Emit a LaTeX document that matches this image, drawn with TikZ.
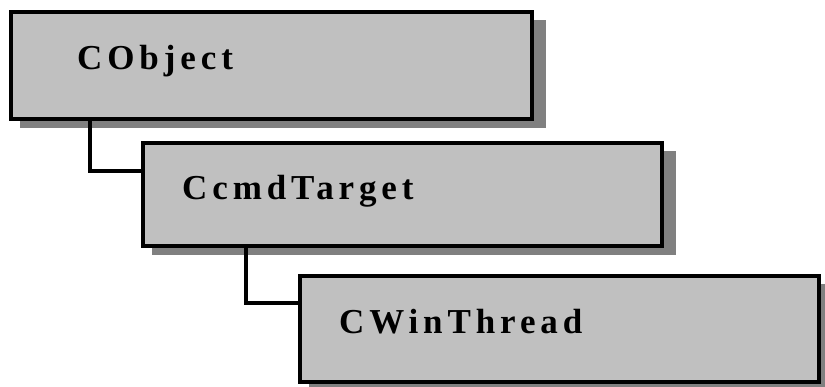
\documentclass[tikz,border=0pt]{standalone}
\usepackage{fontspec}
\newfontfamily\boxfont[LetterSpace=14]{Liberation Serif}
\usetikzlibrary{backgrounds}
\definecolor{boxgray}{HTML}{C0C0C0}
\definecolor{shadowgray}{HTML}{808080}
\tikzset{
  classbox/.style={draw=black, fill=boxgray, line width=3.3pt, rectangle, inner sep=0pt, outer sep=0pt, anchor=north west},
  classlabel/.style={anchor=base west, inner sep=0pt, font=\boxfont\bfseries\fontsize{35}{35}\selectfont, text=black},
  boxshadow/.style={fill=shadowgray, draw=none},
  link/.style={draw=black, line width=3.2pt}
}
\begin{document}
\begin{tikzpicture}[x=1pt, y=-1pt]
\useasboundingbox (0,0) rectangle (825,387);
% boxes
\node[classbox, minimum width=521pt, minimum height=107pt] (b1) at (11,12) {};
\node[classbox, minimum width=519pt, minimum height=103pt] (b2) at (143,143) {};
\node[classbox, minimum width=519pt, minimum height=106pt] (b3) at (300,276) {};
% labels
\node[classlabel] (t1) at (77,70) {CObject};
\node[classlabel] (t2) at (182,200) {CcmdTarget};
\node[classlabel] (t3) at (339,334) {CWinThread};
% shadows
\begin{scope}[on background layer]
\fill[boxshadow] ([shift={(9pt,-8pt)}]b1.north west) rectangle ([shift={(14pt,-9pt)}]b1.south east);
\fill[boxshadow] ([shift={(9pt,-8pt)}]b2.north west) rectangle ([shift={(14pt,-9pt)}]b2.south east);
\fill[boxshadow] ([shift={(9pt,-8pt)}]b3.north west) rectangle ([shift={(14pt,-9pt)}]b3.south east);
\end{scope}
% connectors
\draw[link] ([xshift=79pt]b1.south west) |- ([yshift=-28pt]b2.north west);
\draw[link] ([xshift=103pt]b2.south west) |- ([yshift=-27pt]b3.north west);
\end{tikzpicture}
\end{document}
